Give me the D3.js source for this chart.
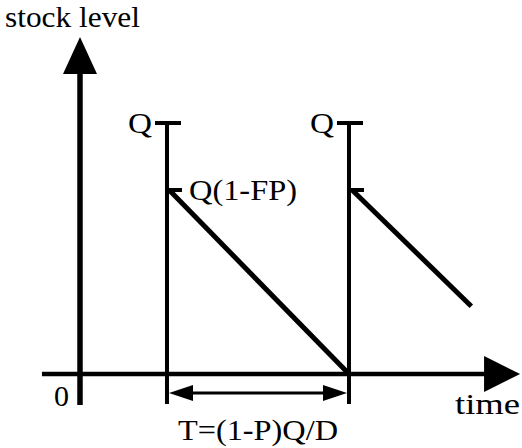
<!DOCTYPE html>
<html>
<head>
<meta charset="utf-8">
<script src="https://cdn.jsdelivr.net/npm/d3@7"></script>
<style>
  html, body { margin: 0; padding: 0; background: #fff; }
  svg text { font-family: "Liberation Serif", "DejaVu Serif", serif; fill: #000; }
</style>
</head>
<body>
<svg id="chart"></svg>
<script>
// time is in units of one cycle T, stock in units of Q
const order_times = [0.478, 1.478];
const stock_ticks = [1.0, 0.733];
const stock_tick_labels = ["Q", "Q(1-FP)"];
const decline_1 = [[0.49, 0.733], [1.478, 0.0]];
const decline_2 = [[1.495, 0.733], [2.15, 0.27]];
const axis_labels = { y: "stock level", x: "time", origin: "0" };
const cycle_label = "T=(1-P)Q/D";

let chart_width = 522;
let chart_height = 448;
let font_size = 30;

const svg = d3.select("#chart")
    .attr("width", chart_width)
    .attr("height", chart_height);

var x = d3.scaleLinear().domain([0, 1]).range([80, 262]);
var y = d3.scaleLinear().domain([0, 1]).range([374, 123]);

// axes
let x_min = -0.209, x_max = 2.418;
let y_min = -0.124, y_max = 1.343;

svg.append("line")
    .attr("x1", x(x_min)).attr("x2", x(x_max) - 20)
    .attr("y1", y(0)).attr("y2", y(0))
    .attr("stroke", "#000").attr("stroke-width", 4.5);

svg.append("line")
    .attr("x1", x(0)).attr("x2", x(0))
    .attr("y1", y(y_min)).attr("y2", y(y_max) + 20)
    .attr("stroke", "#000").attr("stroke-width", 5.5);

// arrow heads of the axes
svg.append("path")
    .attr("d", `M${x(0)},${y(y_max)} L${x(0) - 17},${y(y_max) + 37} L${x(0) + 17},${y(y_max) + 37} Z`)
    .attr("fill", "#000");

svg.append("path")
    .attr("d", `M${x(x_max)},${y(0)} L${x(x_max) - 36},${y(0) - 18} L${x(x_max) - 36},${y(0) + 18} Z`)
    .attr("fill", "#000");

// order arrival verticals
svg.selectAll(".order").data(order_times).enter().append("line")
    .attr("class", "order")
    .attr("x1", d => x(d)).attr("x2", d => x(d))
    .attr("y1", y(stock_ticks[0])).attr("y2", y(y_min) - 1)
    .attr("stroke", "#000").attr("stroke-width", 4);

// ticks Q and Q(1-FP) on each vertical
order_times.forEach(t => {
    svg.append("line")
        .attr("x1", x(t) - 12).attr("x2", x(t) + 14)
        .attr("y1", y(stock_ticks[0])).attr("y2", y(stock_ticks[0]))
        .attr("stroke", "#000").attr("stroke-width", 4);
    svg.append("line")
        .attr("x1", x(t)).attr("x2", x(t) + 15)
        .attr("y1", y(stock_ticks[1])).attr("y2", y(stock_ticks[1]))
        .attr("stroke", "#000").attr("stroke-width", 4);
    svg.append("text")
        .attr("x", x(t) - 39)
        .attr("y", y(stock_ticks[0]) + 10)
        .attr("font-size", font_size)
        .attr("textLength", 24).attr("lengthAdjust", "spacingAndGlyphs")
        .text(stock_tick_labels[0]);
});

svg.append("text")
    .attr("x", x(order_times[0]) + 22)
    .attr("y", y(stock_ticks[1]) + 10)
    .attr("font-size", font_size)
    .attr("textLength", 108).attr("lengthAdjust", "spacingAndGlyphs")
    .text(stock_tick_labels[1]);

// stock decline lines
var line = d3.line().x(d => x(d[0])).y(d => y(d[1]));
[decline_1, decline_2].forEach(seg => {
    svg.append("path")
        .attr("d", line(seg))
        .attr("fill", "none")
        .attr("stroke", "#000")
        .attr("stroke-width", 5);
});

// cycle length double arrow
let arrow_y = y(0) + 19;
let a0 = x(order_times[0]) + 2, a1 = x(order_times[1]) - 2;
svg.append("line")
    .attr("x1", a0 + 20).attr("x2", a1 - 20)
    .attr("y1", arrow_y).attr("y2", arrow_y)
    .attr("stroke", "#000").attr("stroke-width", 3);
svg.append("path")
    .attr("d", `M${a0},${arrow_y} L${a0 + 24},${arrow_y - 8} L${a0 + 24},${arrow_y + 8} Z`)
    .attr("fill", "#000");
svg.append("path")
    .attr("d", `M${a1},${arrow_y} L${a1 - 24},${arrow_y - 8} L${a1 - 24},${arrow_y + 8} Z`)
    .attr("fill", "#000");

svg.append("text")
    .attr("x", (a0 + a1) / 2)
    .attr("y", 440)
    .attr("text-anchor", "middle")
    .attr("font-size", font_size)
    .attr("textLength", 160).attr("lengthAdjust", "spacingAndGlyphs")
    .text(cycle_label);

// axis labels
svg.append("text")
    .attr("x", 5).attr("y", 27)
    .attr("font-size", font_size)
    .attr("textLength", 135).attr("lengthAdjust", "spacingAndGlyphs")
    .text(axis_labels.y);

svg.append("text")
    .attr("x", 455).attr("y", 414)
    .attr("font-size", font_size)
    .attr("textLength", 65).attr("lengthAdjust", "spacingAndGlyphs")
    .text(axis_labels.x);

svg.append("text")
    .attr("x", 54).attr("y", 406)
    .attr("font-size", font_size)
    .attr("textLength", 15).attr("lengthAdjust", "spacingAndGlyphs")
    .text(axis_labels.origin);
</script>
</body>
</html>
